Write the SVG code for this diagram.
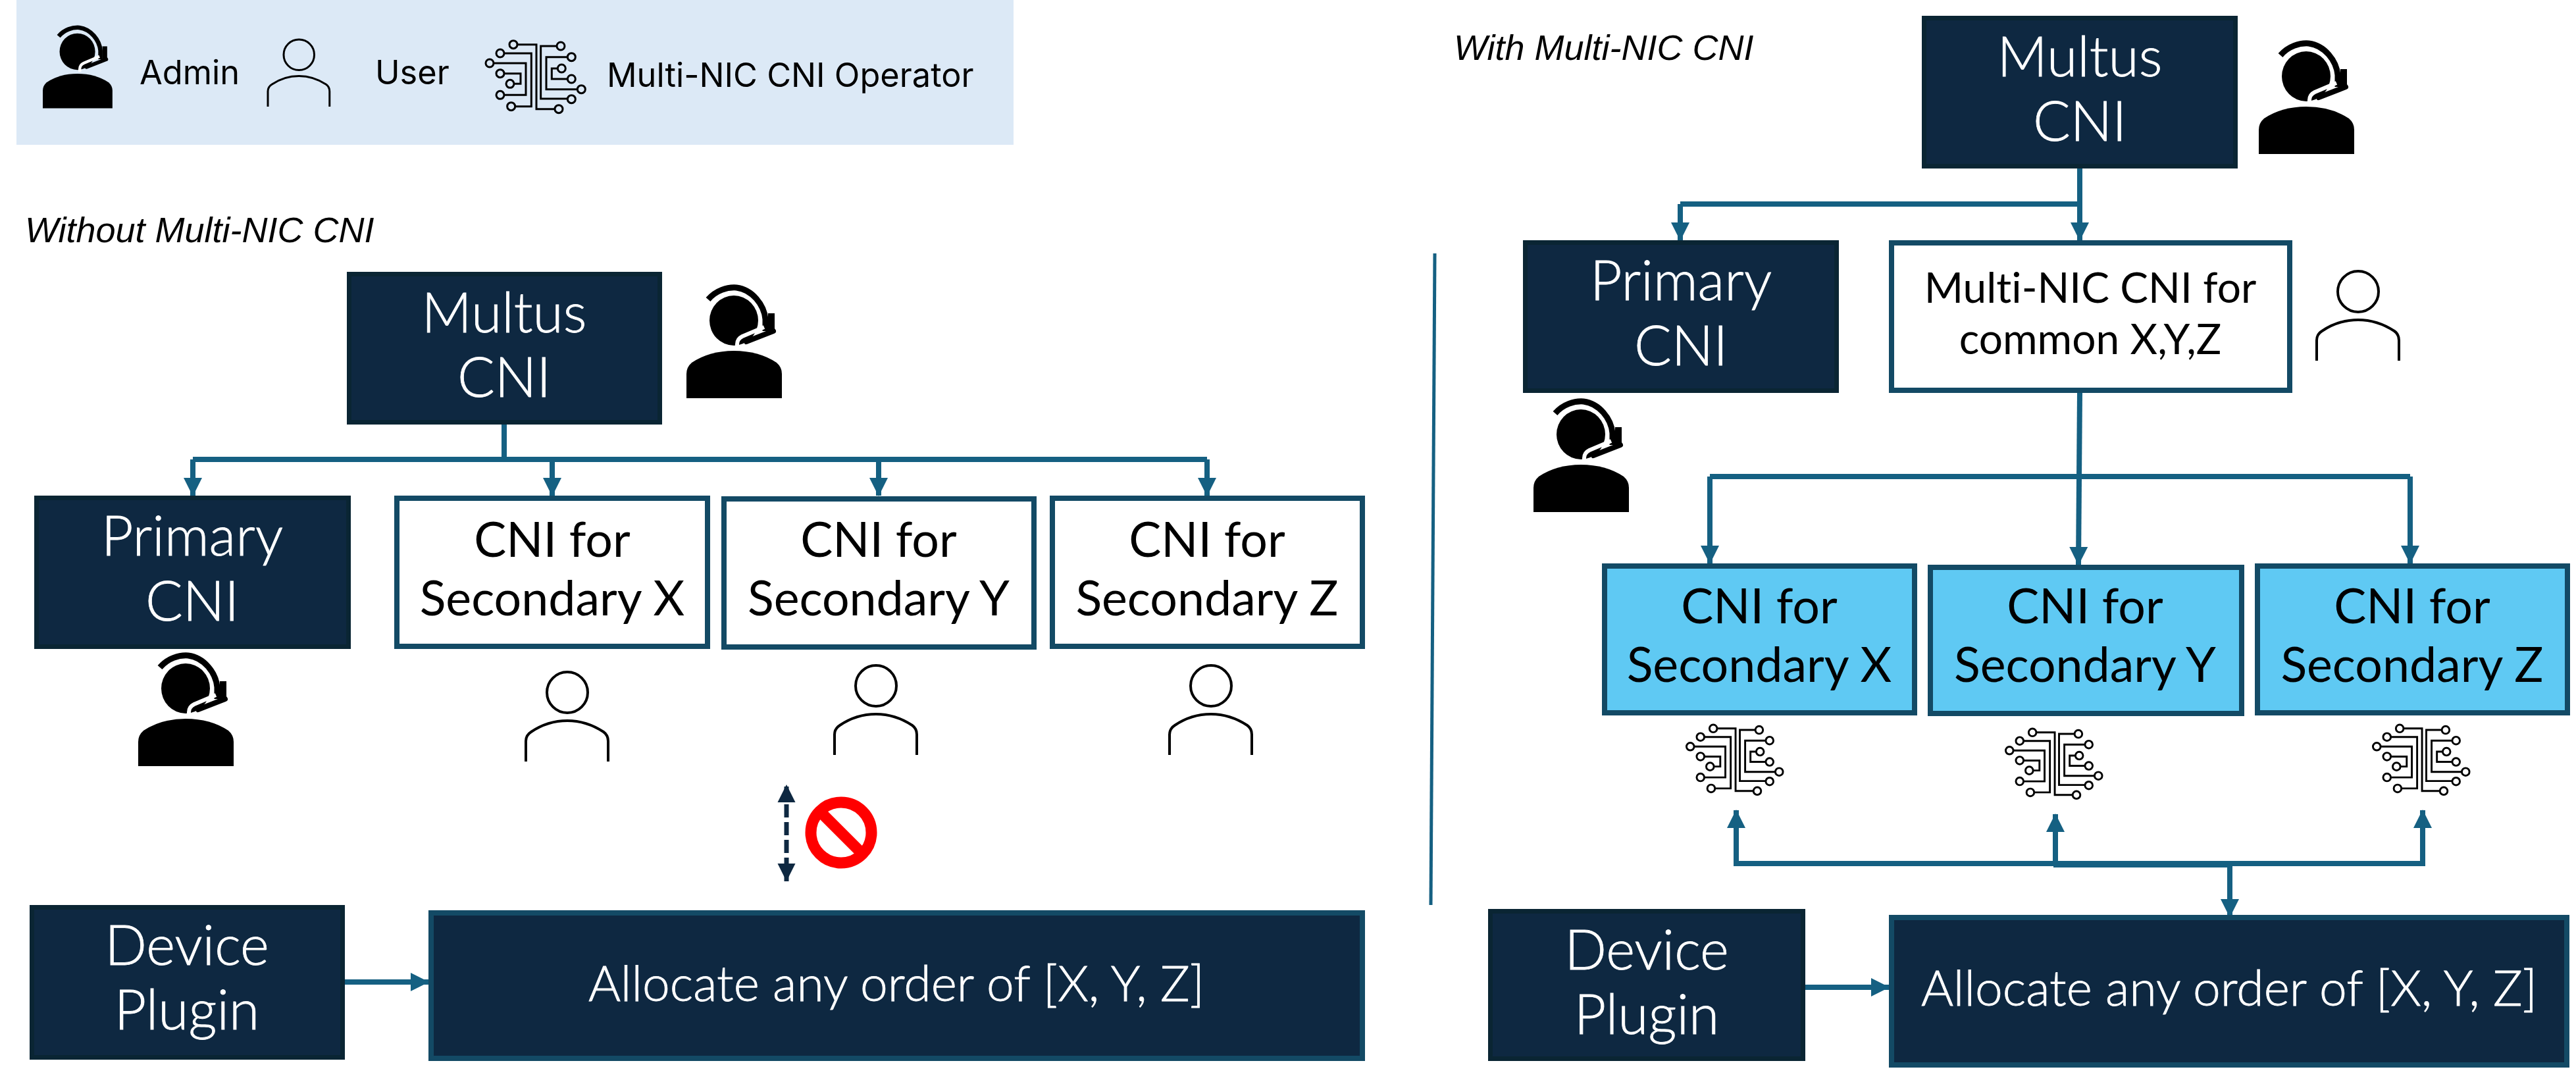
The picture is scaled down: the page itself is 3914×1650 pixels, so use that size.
<svg xmlns="http://www.w3.org/2000/svg" width="3914" height="1650" viewBox="0 0 3914 1650">
<style>
text{font-family:"Lato","Open Sans","Liberation Sans",sans-serif;text-anchor:middle;font-weight:300;font-variant-ligatures:none}
.w{fill:#fff;stroke:#fff;stroke-width:.8}.k{fill:#000;font-weight:400}
.t84{font-size:84px}.t74{font-size:73.500px}.t75{font-size:75px}.t64{font-size:64px}
.lg{font-family:"Inter","Liberation Sans",sans-serif;font-size:50.500px;font-weight:400;text-anchor:start;fill:#000}
.it{font-family:"Liberation Sans",sans-serif;font-size:54px;font-style:italic;font-weight:400;text-anchor:start;fill:#000}
.navy{fill:#0e2841;stroke:#0a2533;stroke-width:7}
.wbox{fill:#fff;stroke:#134a65;stroke-width:8}
.sky{fill:#5fc9f3;stroke:#134a65;stroke-width:8}
.alloc{fill:#0e2841;stroke:#134a65;stroke-width:8}
.c{fill:none;stroke:#156082;stroke-width:8}
</style>
<defs>
<marker id="a" markerUnits="userSpaceOnUse" markerWidth="28" markerHeight="28" refX="27" refY="14" orient="auto"><path d="M0,0L28,14L0,28Z" fill="#156082"/></marker>
<g id="admin">
<path d="M0,172V135Q0,125 8,118Q35,100 72,100Q110,100 137,118Q145,125 145,135V172Z"/>
<ellipse cx="72" cy="54" rx="37" ry="38"/>
<path d="M33,22C45,8 62,3 76,4C100,7 118,30 120,52V70" fill="none" stroke="#000" stroke-width="9"/>
<path d="M118,64L85,78Q77,82 77,90V96" fill="none" stroke="#fff" stroke-width="6"/>
<rect x="124" y="43" width="10" height="30"/>
<path d="M132,70L91,86" fill="none" stroke="#000" stroke-width="8" stroke-linecap="round"/>
</g>
<path id="user" d="M0,136V105Q0,96 8,91Q33,74 63,74Q92,74 118,91Q125,96 125,105V136M94,31A31,31 0 1 1 32,31A31,31 0 1 1 94,31Z" fill="none" stroke="#000" stroke-width="4"/>
<g id="chip" fill="none" stroke="#000" stroke-width="9">
<path d="M198,83H285V377H369M378,90H305V330H427M138,123H262V365H188M90,168H237V313H138M138,215H213V262H183M382,192H355V240H427M427,140H330V287H472"/>
<circle cx="180" cy="83" r="18"/><circle cx="120" cy="123" r="18"/><circle cx="72" cy="168" r="18"/><circle cx="120" cy="215" r="18"/><circle cx="165" cy="262" r="18"/><circle cx="120" cy="313" r="18"/><circle cx="170" cy="365" r="18"/>
<circle cx="396" cy="90" r="18"/><circle cx="445" cy="140" r="18"/><circle cx="400" cy="192" r="18"/><circle cx="445" cy="240" r="18"/><circle cx="490" cy="287" r="18"/><circle cx="445" cy="332" r="18"/><circle cx="387" cy="377" r="18"/>
</g>
</defs>
<rect width="3914" height="1650" fill="#fff"/>
<g id="legend">
<rect x="25" y="0" width="1515" height="220" fill="#dce9f6"/>
<use href="#admin" transform="translate(65,39) scale(.73)"/>
<text class="lg" x="212" y="128">Admin</text>
<use href="#user" transform="translate(407,60) scale(.75)"/>
<text class="lg" x="570" y="128">User</text>
<use href="#chip" transform="translate(720,40) scale(.3333)"/>
<text class="lg" x="922" y="132">Multi-NIC CNI Operator</text>
</g>
<text class="it" x="38" y="368">Without Multi-NIC CNI</text>
<text class="it" x="2209" y="91">With Multi-NIC CNI</text>
<g id="connectors">
<path class="c" d="M766,645V698M293,698H1834"/>
<path class="c" d="M293,698V753" marker-end="url(#a)"/>
<path class="c" d="M839,698V753" marker-end="url(#a)"/>
<path class="c" d="M1335,698V753" marker-end="url(#a)"/>
<path class="c" d="M1834,698V753" marker-end="url(#a)"/>
<path class="c" d="M524,1492H651" marker-end="url(#a)"/>
<path d="M1195,1192V1339" fill="none" stroke="#0e2841" stroke-width="7" stroke-dasharray="20 7" stroke-dashoffset="-3"/>
<path d="M1195,1192l-13.500,27h27ZM1195,1339l-13.500,-27h27Z" fill="#0e2841"/>
<path class="c" d="M3160,256V310M2553,310H3160"/>
<path class="c" d="M2553,310V365" marker-end="url(#a)"/>
<path class="c" d="M3160,310V365" marker-end="url(#a)"/>
<path class="c" d="M3160,597L3158,858" marker-end="url(#a)"/>
<path class="c" d="M2598,724H3662"/>
<path class="c" d="M2598,724V856" marker-end="url(#a)"/>
<path class="c" d="M3662,724V856" marker-end="url(#a)"/>
<path class="c" d="M2638,1312V1231" marker-end="url(#a)"/>
<path class="c" d="M3123,1312V1237" marker-end="url(#a)"/>
<path class="c" d="M3681,1312V1231" marker-end="url(#a)"/>
<path class="c" d="M2634,1312H3685"/>
<path d="M3120,1308H3392V1318H3120Z" fill="#156082"/>
<path class="c" d="M3388,1308V1393" marker-end="url(#a)"/>
<path class="c" d="M2743,1500H2870" marker-end="url(#a)"/>
<path d="M2180,385L2174,1375" fill="none" stroke="#156082" stroke-width="5"/>
</g>
<g id="multus-left"><rect class="navy" x="530.500" y="416.500" width="472" height="225"/><text class="w t84" x="766" y="505">Multus</text><text class="w t84" x="766" y="603">CNI</text></g>
<g id="admin-left-multus"><use href="#admin" transform="translate(1043,433)"/></g>
<g id="primary-left"><rect class="navy" x="55.500" y="756.500" width="474" height="226"/><text class="w t84" x="292" y="844">Primary</text><text class="w t84" x="292" y="943">CNI</text></g>
<g id="admin-left-primary"><use href="#admin" transform="translate(210,992)"/></g>
<g id="cni-left-x"><rect class="wbox" x="603" y="757" width="472" height="225"/><text class="k t74" x="839" y="846">CNI for</text><text class="k t74" x="839" y="935">Secondary X</text></g>
<g id="cni-left-y"><rect class="wbox" x="1100" y="758" width="471" height="225"/><text class="k t74" x="1335" y="846">CNI for</text><text class="k t74" x="1335" y="935">Secondary Y</text></g>
<g id="cni-left-z"><rect class="wbox" x="1599" y="757" width="471" height="225"/><text class="k t74" x="1834" y="846">CNI for</text><text class="k t74" x="1834" y="935">Secondary Z</text></g>
<g id="user-left-x"><use href="#user" transform="translate(799,1021)"/></g>
<g id="user-left-y"><use href="#user" transform="translate(1268,1011)"/></g>
<g id="user-left-z"><use href="#user" transform="translate(1777,1011)"/></g>
<g id="no-symbol"><circle cx="1278" cy="1265" r="46" fill="none" stroke="#f00" stroke-width="17"/><path d="M1246,1233L1310,1297" stroke="#f00" stroke-width="17"/></g>
<g id="device-left"><rect class="navy" x="48.500" y="1378.500" width="472" height="228"/><text class="w t84" x="284" y="1466">Device</text><text class="w t84" x="284" y="1564">Plugin</text></g>
<g id="alloc-left"><rect class="alloc" x="655" y="1387" width="1415" height="221"/><text class="w t75" x="1362" y="1521">Allocate any order of [X, Y, Z]</text></g>
<g id="multus-right"><rect class="navy" x="2923.500" y="27.500" width="473" height="225"/><text class="w t84" x="3160" y="116">Multus</text><text class="w t84" x="3160" y="214">CNI</text></g>
<g id="admin-right-multus"><use href="#admin" transform="translate(3432,62)"/></g>
<g id="primary-right"><rect class="navy" x="2317.500" y="368.500" width="473" height="225"/><text class="w t84" x="2554" y="456">Primary</text><text class="w t84" x="2554" y="555">CNI</text></g>
<g id="admin-right-primary"><use href="#admin" transform="translate(2330,606)"/></g>
<g id="multinic"><rect class="wbox" x="2874" y="369" width="605" height="224"/><text class="k t64" x="3176" y="460">Multi-NIC CNI for</text><text class="k t64" x="3176" y="538">common X,Y,Z</text></g>
<g id="user-right"><use href="#user" transform="translate(3520,412)"/></g>
<g id="cni-right-x"><rect class="sky" x="2438" y="860" width="471" height="223"/><text class="k t74" x="2673" y="947">CNI for</text><text class="k t74" x="2673" y="1036">Secondary X</text></g>
<g id="cni-right-y"><rect class="sky" x="2933" y="862" width="473" height="222"/><text class="k t74" x="3168" y="947">CNI for</text><text class="k t74" x="3168" y="1036">Secondary Y</text></g>
<g id="cni-right-z"><rect class="sky" x="3430" y="860" width="471" height="223"/><text class="k t74" x="3665" y="947">CNI for</text><text class="k t74" x="3665" y="1036">Secondary Z</text></g>
<g id="chip-x"><use href="#chip" transform="translate(2545,1080) scale(.323)"/></g>
<g id="chip-y"><use href="#chip" transform="translate(3030,1086) scale(.323)"/></g>
<g id="chip-z"><use href="#chip" transform="translate(3588,1080) scale(.323)"/></g>
<g id="device-right"><rect class="navy" x="2264.500" y="1384.500" width="475" height="224"/><text class="w t84" x="2502" y="1473">Device</text><text class="w t84" x="2502" y="1571">Plugin</text></g>
<g id="alloc-right"><rect class="alloc" x="2874" y="1394" width="1026" height="224"/><text class="w t75" x="3387" y="1528">Allocate any order of [X, Y, Z]</text></g>
</svg>
